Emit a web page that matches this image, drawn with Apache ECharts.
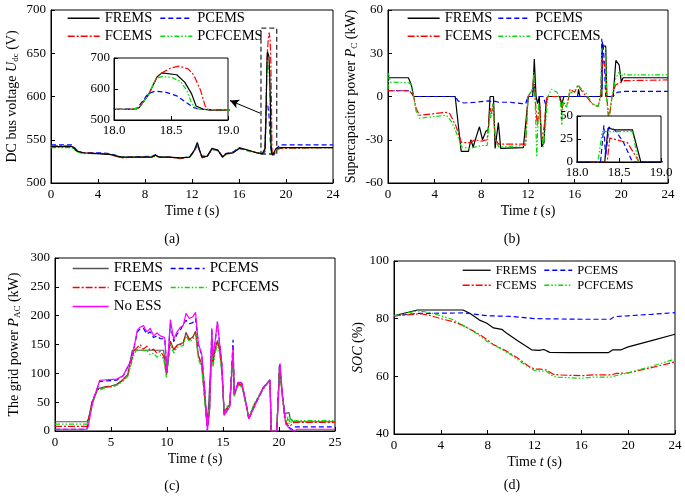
<!DOCTYPE html>
<html><head><meta charset="utf-8">
<script src="https://cdn.jsdelivr.net/npm/echarts@6/dist/echarts.min.js"></script>
<style>html,body{margin:0;padding:0;background:#fff}#c{width:685px;height:496px}</style>
</head><body><div id="c"></div>
<script>
// ---------- (a) DC bus voltage [t (s), V] ----------
const aFREMS = [[0,542],[1.8,542],[2.2,537],[2.7,535],[4,534],[5,533],[6,530],[7,530],[8.6,530],[8.9,532],[9.2,530],[10,530],[11,529],[11.8,530],[12.2,538],[12.45,547],[12.65,538],[12.85,530],[13.3,531],[13.7,540],[14.2,538],[14.6,530],[14.9,534],[15.5,535],[16,540],[16.5,539],[17,537],[17.5,535],[18.0,534],[18.15,534],[18.22,540],[18.3,580],[18.38,640],[18.42,652],[18.55,646],[18.62,622],[18.68,585],[18.72,545],[18.78,535],[18.85,532],[19.0,532],[19.15,540],[19.3,538],[19.6,541],[24,541]];
const aPCEMS = [[0,544],[1.8,544],[2.2,538],[2.7,535],[4,535],[5,534],[6,530],[7,530],[8.6,531],[8.9,533],[9.2,530],[10,530],[11,529],[11.8,530],[12.2,537],[12.45,544],[12.65,537],[12.85,531],[13.3,531],[13.7,539],[14.2,538],[14.6,531],[14.9,534],[15.5,536],[16,541],[16.5,539],[17,537],[17.5,535],[18.0,534],[18.2,536],[18.3,585],[18.36,593],[18.45,590],[18.55,578],[18.62,560],[18.7,540],[18.76,534],[19.0,533],[19.2,540],[19.5,544],[24,544]];
const aFCEMS = [[0,543],[1.8,543],[2.2,537],[2.7,535],[4,534],[5,533],[6,529],[7,530],[8.6,530],[8.9,532],[9.2,530],[10,530],[11,528],[11.8,530],[12.2,537],[12.45,545],[12.65,537],[12.85,529],[13.3,531],[13.7,539],[14.2,538],[14.6,530],[14.9,533],[15.5,535],[16,540],[16.5,539],[17,537],[17.5,535],[18.0,534],[18.15,534],[18.22,540],[18.3,580],[18.38,640],[18.42,652],[18.5,668],[18.57,674],[18.65,665],[18.7,645],[18.76,595],[18.8,545],[18.83,533],[19.0,532],[19.15,538],[19.5,540],[24,541]];
const aPCFCEMS = [[0,541],[1.8,541],[2.2,536],[2.7,534],[4,534],[5,533],[6,530],[7,530],[8.6,530],[8.9,531],[9.2,530],[10,530],[11,529],[11.8,530],[12.2,537],[12.45,545],[12.65,537],[12.85,530],[13.3,531],[13.7,539],[14.2,537],[14.6,530],[14.9,533],[15.5,535],[16,540],[16.5,538],[17,536],[17.5,535],[18.0,534],[18.15,534],[18.22,540],[18.3,580],[18.37,635],[18.42,640],[18.5,638],[18.58,625],[18.64,595],[18.68,555],[18.72,538],[18.76,534],[19.0,532],[19.15,539],[19.3,538],[19.6,541],[24,541]];

// ---------- (b) Supercapacitor power [t (s), kW] ----------
const bFREMS = [[0,13],[1.75,13],[2.0,8],[2.2,0],[5.76,0],[6.27,-38],[6.9,-38],[7.1,-30],[7.3,-35],[7.6,-27],[7.84,-21],[8.1,-30],[8.4,-24],[8.6,-23],[8.75,0],[9.04,0],[9.18,-36],[9.46,-18],[9.66,-36],[11.6,-35.5],[11.75,-35],[12.03,0],[12.4,0],[12.54,26],[12.69,0],[12.83,-5],[12.97,0],[13.17,-35],[13.37,-32],[13.54,-5],[13.68,0],[14.7,0],[14.9,-5],[15.08,0],[16.25,0],[16.33,5],[16.45,0],[18.33,0],[18.37,37],[18.45,35],[18.66,35],[18.76,0],[19.3,0],[19.53,25],[19.81,22],[20.0,10],[20.15,13],[24,13]];
const bPCEMS = [[0,4],[1.8,4],[2.0,2.5],[2.2,0],[5.76,0],[6.0,-3],[6.5,-4.5],[7.5,-4],[8.6,-3],[8.8,-3.5],[9.0,-3],[9.5,-4],[10.5,-4],[11.5,-5],[11.8,-5],[12.0,0],[12.4,0],[12.5,14],[12.6,0],[13.3,0],[13.5,-5],[13.7,0],[18.28,0],[18.32,40],[18.34,5],[18.38,38],[18.45,35],[18.55,22],[18.66,0],[19.3,0],[19.5,2],[19.7,3],[20.2,3.5],[24,3.5]];
const bFCEMS = [[0,4],[1.8,4],[2.0,2.5],[2.2,0],[2.4,-8],[2.7,-13],[5.0,-11],[5.3,-12],[5.8,-20],[6.3,-32],[7.0,-32],[7.5,-30],[8.0,-31],[8.5,-30],[8.75,-8],[8.9,-12],[9.0,-5],[9.2,-30],[9.5,-33],[11.8,-33],[12.0,0],[12.4,5],[12.5,15],[12.6,0],[12.8,-20],[13.0,-5],[13.2,-30],[13.4,-20],[13.6,0],[14.8,0],[14.9,-10],[15.0,-5],[15.4,-5],[15.6,5],[16.0,3],[16.3,8],[16.5,5],[17.0,0],[17.5,-5],[18.0,-7],[18.2,0],[18.36,0],[18.39,26],[18.6,21],[18.74,0],[18.95,-16],[19.2,0],[19.5,8],[20.0,10],[20.3,11],[24,11.5]];
const bPCFCEMS = [[0,5],[0.05,16],[0.2,10],[1.8,9.5],[2.0,8],[2.2,0],[2.4,-10],[2.7,-15],[5.0,-13],[5.5,-18],[6.0,-28],[6.3,-35],[7.0,-36],[8.0,-34],[8.5,-34],[8.75,-10],[8.8,-15],[9.0,-5],[9.2,-30],[9.5,-35],[11.8,-34],[12.0,0],[12.4,5],[12.5,17],[12.6,0],[12.75,-42],[12.9,-5],[13.1,-20],[13.3,-35],[13.5,-20],[13.7,0],[14.0,5],[14.5,3],[14.8,-5],[14.9,-20],[15.0,-3],[15.3,-8],[15.5,2],[16.0,4],[16.3,8],[16.6,5],[17.0,2],[17.5,-5],[18.0,-7],[18.25,0],[18.3,33],[18.66,33],[18.73,0],[18.9,-16],[19.2,0],[19.5,12],[19.8,17],[20.0,14],[20.2,16],[20.4,15],[24,15]];

// ---------- (c) Grid power [t (s), kW] ----------
const cFREMS = [[0,16],[2.85,16],[3.0,22],[3.3,50],[3.8,73],[4.5,77],[5.0,78],[5.5,81],[6.0,88],[6.5,98],[6.8,130],[6.9,140],[9.7,140],[9.95,98],[10.3,156],[10.6,141],[10.9,149],[11.2,151],[11.45,153],[11.7,171],[12.0,159],[12.3,163],[12.55,173],[12.8,131],[13.1,116],[13.4,48],[13.55,15],[13.7,40],[13.8,42],[14.0,150],[14.1,118],[14.3,142],[14.5,157],[14.7,141],[14.9,106],[15.1,33],[15.6,46],[15.9,137],[16.0,63],[16.4,83],[16.7,79],[17.1,43],[17.3,22],[17.8,46],[18.6,74],[19.2,89],[19.3,0],[19.8,0],[20.05,115],[20.3,62],[20.5,30],[20.9,32],[21.0,22],[21.3,16],[25,16]];
const cPCEMS = [[0,3],[2.85,3],[3.0,20],[3.4,53],[4.0,86],[5.5,88],[6.1,96],[6.7,119],[7.0,139],[7.35,172],[7.6,177],[7.9,178],[8.2,168],[8.5,172],[8.8,162],[9.1,165],[9.4,160],[9.8,160],[10.0,101],[10.3,185],[10.6,155],[10.9,168],[11.2,175],[11.45,185],[11.7,192],[12.0,186],[12.3,188],[12.55,195],[12.8,150],[13.1,132],[13.4,62],[13.6,0],[13.8,35],[14.0,176],[14.1,126],[14.3,155],[14.5,188],[14.7,150],[14.9,115],[15.1,28],[15.6,42],[15.9,158],[16.0,64],[16.4,87],[16.7,82],[17.1,44],[17.3,21],[17.8,42],[18.6,76],[19.2,88],[19.3,0],[19.8,0],[20.05,117],[20.3,64],[20.6,15],[21.0,5],[21.2,2],[21.4,7],[25,7]];
const cFCEMS = [[0,8],[2.85,8],[3.0,20],[3.3,50],[3.8,72],[4.5,76],[5.0,77],[5.5,80],[6.0,87],[6.5,97],[6.8,120],[7.1,140],[7.35,145],[7.6,150],[7.9,142],[8.2,147],[8.5,140],[8.8,142],[9.1,135],[9.4,138],[9.7,130],[9.95,97],[10.3,155],[10.6,140],[10.9,148],[11.2,150],[11.45,152],[11.7,170],[12.0,158],[12.3,162],[12.55,172],[12.8,130],[13.1,115],[13.4,50],[13.6,10],[13.8,40],[14.0,148],[14.1,115],[14.3,140],[14.5,155],[14.7,140],[14.9,105],[15.1,32],[15.6,45],[15.9,135],[16.0,62],[16.4,82],[16.7,78],[17.1,42],[17.3,22],[17.8,45],[18.6,73],[19.2,88],[19.3,0],[19.8,0],[20.05,112],[20.3,60],[20.5,20],[20.8,10],[21.0,8],[21.2,14],[21.4,15],[25,15]];
const cPCFCEMS = [[0,12],[2.85,12],[3.0,18],[3.3,45],[3.8,70],[4.5,75],[5.0,76],[5.5,79],[6.0,85],[6.5,95],[6.8,115],[7.1,135],[7.35,142],[7.6,145],[7.9,138],[8.2,140],[8.5,132],[8.8,135],[9.1,128],[9.4,132],[9.7,125],[9.95,93],[10.3,150],[10.6,135],[10.9,145],[11.2,147],[11.45,148],[11.7,165],[12.0,155],[12.3,158],[12.55,168],[12.8,125],[13.1,110],[13.4,45],[13.6,15],[13.8,35],[14.0,140],[14.1,110],[14.3,135],[14.5,150],[14.7,135],[14.9,100],[15.1,38],[15.6,48],[15.9,130],[16.0,60],[16.4,80],[16.7,76],[17.1,40],[17.3,25],[17.8,48],[18.6,75],[19.2,87],[19.3,0],[19.8,0],[20.05,110],[20.3,60],[20.5,30],[20.7,15],[20.8,25],[20.9,12],[21.0,22],[21.1,14],[21.2,20],[21.4,17],[21.6,18],[25,18]];
const cNoESS = [[0,3],[2.85,3],[2.97,8],[3.4,53],[4.0,88],[5.5,90],[6.1,96],[6.7,119],[7.0,139],[7.35,175],[7.6,180],[7.9,183],[8.2,172],[8.5,178],[8.8,165],[9.1,170],[9.4,165],[9.8,162],[10.0,101],[10.3,193],[10.6,159],[10.9,172],[11.2,180],[11.45,183],[11.7,204],[12.0,195],[12.3,198],[12.55,206],[12.8,151],[13.1,134],[13.4,64],[13.6,0],[13.8,35],[14.0,178],[14.1,128],[14.3,157],[14.5,190],[14.7,152],[14.9,117],[15.1,27],[15.6,42],[15.9,146],[16.0,64],[16.4,85],[16.7,82],[17.1,44],[17.3,21],[17.8,42],[18.6,76],[19.2,88],[19.3,0],[19.8,0],[20.1,117],[20.3,64],[20.6,12],[21.0,3],[21.4,0],[21.6,3],[25,3]];

// ---------- (d) SOC [t (s), %] ----------
const dFREMS = [[0,81],[2,83],[5.9,83],[6.5,81.8],[7.3,79.5],[7.9,78.5],[8.5,76.8],[9.2,76.3],[9.6,75],[10.5,72.5],[11.75,69.2],[12.4,69],[12.8,69.3],[13.3,68.3],[15,68.2],[18.3,68.2],[18.7,69.2],[19.4,69.2],[20,70.2],[22,72.4],[24,74.6]];
const dPCEMS = [[0,81],[2,81.8],[6,82],[7,81.5],[8,81],[10,80.8],[12,80],[14,79.9],[16,79.8],[18.5,79.8],[18.8,80.7],[20,81],[22,81.5],[24,82.1]];
const dFCEMS = [[0,81],[2.3,81.7],[3,81.2],[4,80],[5,79],[5.7,78],[6.5,76.3],[7.5,74],[8.5,71],[9.5,69],[10.5,66.5],[11.5,63.5],[12,62.5],[12.5,62.5],[13,62.2],[13.6,60.7],[14,60.5],[16,60.2],[17,60.5],[18.5,60.5],[19,61],[20,61.2],[22,63],[24,65]];
const dPCFCEMS = [[0,81],[2,82.7],[3,82.2],[4,81],[5,79.7],[6,77.5],[7,75],[8,72],[9,69.8],[10,67.5],[11,64.5],[12,62],[12.5,61.8],[13,61.8],[13.6,60],[14,59.7],[16,59.3],[17,59.7],[18.5,59.7],[19,60.3],[20,61.2],[22,63.5],[24,66]];

// ---------- axis ticks [min, max, interval] ----------
const xTicksA = [0, 24, 4], yTicksA = [500, 700, 50];
const xTicksB = [0, 24, 4], yTicksB = [-60, 60, 30];
const xTicksC = [0, 25, 5], yTicksC = [0, 300, 50];
const xTicksD = [0, 24, 4], yTicksD = [40, 100, 20];
const xInset = [18, 19, 0.5], yInsetA = [500, 700, 100], yInsetB = [0, 50, 25];

const FF = "'Liberation Serif','Times New Roman',serif";
const STY = {
  FREMS: {color:'#000000', type:'solid', width:1.2},
  PCEMS: {color:'#0000ff', type:[5,3], width:1.2},
  FCEMS: {color:'#ff0000', type:[7,2,2,2], width:1.2},
  PCFCEMS: {color:'#00dd00', type:[5,2,1.5,2,1.5,2], width:1.2},
  'No ESS': {color:'#ff00ff', type:'solid', width:1.2}
};
const GRAYF = {color:'#555555', type:'solid', width:1.2};

const rich = {
  n:{fontFamily:FF, fontSize:14, color:'#000'},
  i:{fontFamily:FF, fontSize:14, fontStyle:'italic', color:'#000'},
  s:{fontFamily:FF, fontSize:9, color:'#000', verticalAlign:'bottom', padding:[6,0,0,0]}
};
const nameStyle = {fontFamily:FF, fontSize:14, color:'#000', rich: rich};

function xAx(gi, t, opt) {
  return Object.assign({
    gridIndex: gi, type:'value', min:t[0], max:t[1], interval:t[2],
    axisLine:{show:true, onZero:false, lineStyle:{color:'#000', width:1}},
    axisTick:{show:true, inside:true, length:4, lineStyle:{color:'#000'}},
    splitLine:{show:false},
    axisLabel:{color:'#000', fontFamily:FF, fontSize:13, margin:5}
  }, opt || {});
}
const yAx = xAx;

function ser(name, data, gi, sty, z, extra) {
  return Object.assign({
    name: name, type:'line', data: data, xAxisIndex: gi, yAxisIndex: gi,
    symbol:'none', showSymbol:false, animation:false, z: z,
    lineStyle: sty, itemStyle:{color: sty.color}, clip:true
  }, extra || {});
}

const xName = '{n|Time }{i|t}{n| (s)}';
const grids = [
  {left:51, top:10, width:282, height:173},
  {left:114, top:58, width:114, height:62, show:true, backgroundColor:'#fff', borderColor:'#000', borderWidth:1, z:5},
  {left:388, top:10, width:280, height:173},
  {left:577, top:116, width:84, height:46, show:true, backgroundColor:'#fff', borderColor:'#000', borderWidth:1, z:5},
  {left:55, top:258, width:280, height:173},
  {left:394, top:261, width:281, height:173}
].map((g,i)=> (i===1||i===3) ? g : Object.assign({show:true, borderColor:'#000', borderWidth:1}, g));

const insetLbl = {color:'#000', fontFamily:FF, fontSize:13, margin:4, formatter: v => v.toFixed(1)};
const insetY = {color:'#000', fontFamily:FF, fontSize:13, margin:4};

const xAxes = [
  xAx(0, xTicksA, {name:xName, nameLocation:'middle', nameGap:21, nameTextStyle:nameStyle}),
  xAx(1, xInset, {axisLabel:insetLbl, z:6}),
  xAx(2, xTicksB, {name:xName, nameLocation:'middle', nameGap:21, nameTextStyle:nameStyle}),
  xAx(3, xInset, {axisLabel:insetLbl, z:6}),
  xAx(4, xTicksC, {name:xName, nameLocation:'middle', nameGap:21, nameTextStyle:nameStyle}),
  xAx(5, xTicksD, {name:xName, nameLocation:'middle', nameGap:21, nameTextStyle:nameStyle})
];
const yAxes = [
  yAx(0, yTicksA, {name:'{n|DC bus voltage }{i|U}{s|dc}{n| (V)}', nameLocation:'middle', nameGap:31, nameTextStyle:nameStyle}),
  yAx(1, yInsetA, {axisLabel:insetY, z:6}),
  yAx(2, yTicksB, {name:'{n|Supercapacitor power }{i|P}{s|C}{n| (kW)}', nameLocation:'middle', nameGap:29, nameTextStyle:nameStyle}),
  yAx(3, yInsetB, {axisLabel:insetY, z:6}),
  yAx(4, yTicksC, {name:'{n|The grid power }{i|P}{s|AC}{n| (kW)}', nameLocation:'middle', nameGap:33, nameTextStyle:nameStyle}),
  yAx(5, yTicksD, {name:'{i|SOC}{n| (%)}', nameLocation:'middle', nameGap:27, nameTextStyle:nameStyle})
];

const series = [
  ser('FREMS', aFREMS, 0, STY.FREMS, 3, {
    markArea:{silent:true, itemStyle:{color:'rgba(0,0,0,0)', borderColor:'#333', borderWidth:1.3, borderType:[5,3]}, label:{show:false},
      data:[[{coord:[17.87,533.5]},{coord:[19.21,679]}]]},
    markLine:{silent:true, symbol:['none','arrow'], symbolSize:[7,9], label:{show:false},
      lineStyle:{color:'#000', type:'solid', width:1},
      data:[[{coord:[17.79,580.8]},{coord:[15.23,595.3]}]]}
  }),
  ser('PCEMS', aPCEMS, 0, STY.PCEMS, 2),
  ser('FCEMS', aFCEMS, 0, STY.FCEMS, 2),
  ser('PCFCEMS', aPCFCEMS, 0, STY.PCFCEMS, 2),
  ser('FREMS', aFREMS, 1, STY.FREMS, 7),
  ser('PCEMS', aPCEMS, 1, STY.PCEMS, 7),
  ser('FCEMS', aFCEMS, 1, STY.FCEMS, 7),
  ser('PCFCEMS', aPCFCEMS, 1, STY.PCFCEMS, 7),

  ser('FREMS', bFREMS, 2, STY.FREMS, 2),
  ser('PCEMS', bPCEMS, 2, STY.PCEMS, 2),
  ser('FCEMS', bFCEMS, 2, STY.FCEMS, 2),
  ser('PCFCEMS', bPCFCEMS, 2, STY.PCFCEMS, 2),
  ser('FREMS', bFREMS, 3, STY.FREMS, 7),
  ser('PCEMS', bPCEMS, 3, STY.PCEMS, 7),
  ser('FCEMS', bFCEMS, 3, STY.FCEMS, 7),
  ser('PCFCEMS', bPCFCEMS, 3, STY.PCFCEMS, 7),

  ser('FREMS', cFREMS, 4, GRAYF, 2),
  ser('PCEMS', cPCEMS, 4, STY.PCEMS, 2),
  ser('FCEMS', cFCEMS, 4, STY.FCEMS, 2),
  ser('PCFCEMS', cPCFCEMS, 4, STY.PCFCEMS, 2),
  ser('No ESS', cNoESS, 4, STY['No ESS'], 3),

  ser('FREMS', dFREMS, 5, STY.FREMS, 2),
  ser('PCEMS', dPCEMS, 5, STY.PCEMS, 2),
  ser('FCEMS', dFCEMS, 5, STY.FCEMS, 2),
  ser('PCFCEMS', dPCFCEMS, 5, STY.PCFCEMS, 2)
];

function leg(left, top, names, iw, tw, gap, fs, lineColor) {
  const ls = {width:1.3};
  if (lineColor) ls.color = lineColor;
  return {
    left:left, top:top, padding:0, itemWidth:iw, itemHeight:10, itemGap:gap, selectedMode:false,
    data: names,
    itemStyle:{opacity:0},
    lineStyle: ls,
    textStyle:{fontFamily:FF, fontSize:fs, color:'#000', width:tw, lineHeight:fs+2}
  };
}
const legends = [
  leg(67, 10, ['FREMS','PCEMS'], 32, 50, 5, 14.5),
  leg(67, 28, ['FCEMS','PCFCEMS'], 32, 50, 5, 14.5),
  leg(407, 10, ['FREMS','PCEMS'], 32, 50, 3, 14.5),
  leg(407, 28, ['FCEMS','PCFCEMS'], 32, 50, 3, 14.5),
  leg(72, 260, ['FREMS'], 36, 52, 4.5, 15, GRAYF.color),
  leg(170, 260, ['PCEMS'], 34, 52, 4.5, 15),
  leg(72, 279, ['FCEMS','PCFCEMS'], 36, 52, 4.5, 15),
  leg(72, 298, ['No ESS'], 36, 52, 4.5, 15),
  leg(462, 263, ['FREMS','PCEMS'], 28, 40, 7, 12.5),
  leg(462, 278, ['FCEMS','PCFCEMS'], 28, 40, 7, 12.5)
];

const labels = [['(a)',172,239],['(b)',512,239],['(c)',172,486],['(d)',512,485]];
const graphic = labels.map(l => ({type:'text', x:l[1], y:l[2], silent:true,
  style:{text:l[0], fontFamily:FF, fontSize:14, fill:'#000', textAlign:'center', textVerticalAlign:'middle'}}));

const chart = echarts.init(document.getElementById('c'), null, {renderer:'canvas'});
chart.setOption({
  animation:false, backgroundColor:'#fff',
  grid: grids, xAxis: xAxes, yAxis: yAxes, series: series, legend: legends, graphic: graphic
});
</script></body></html>
